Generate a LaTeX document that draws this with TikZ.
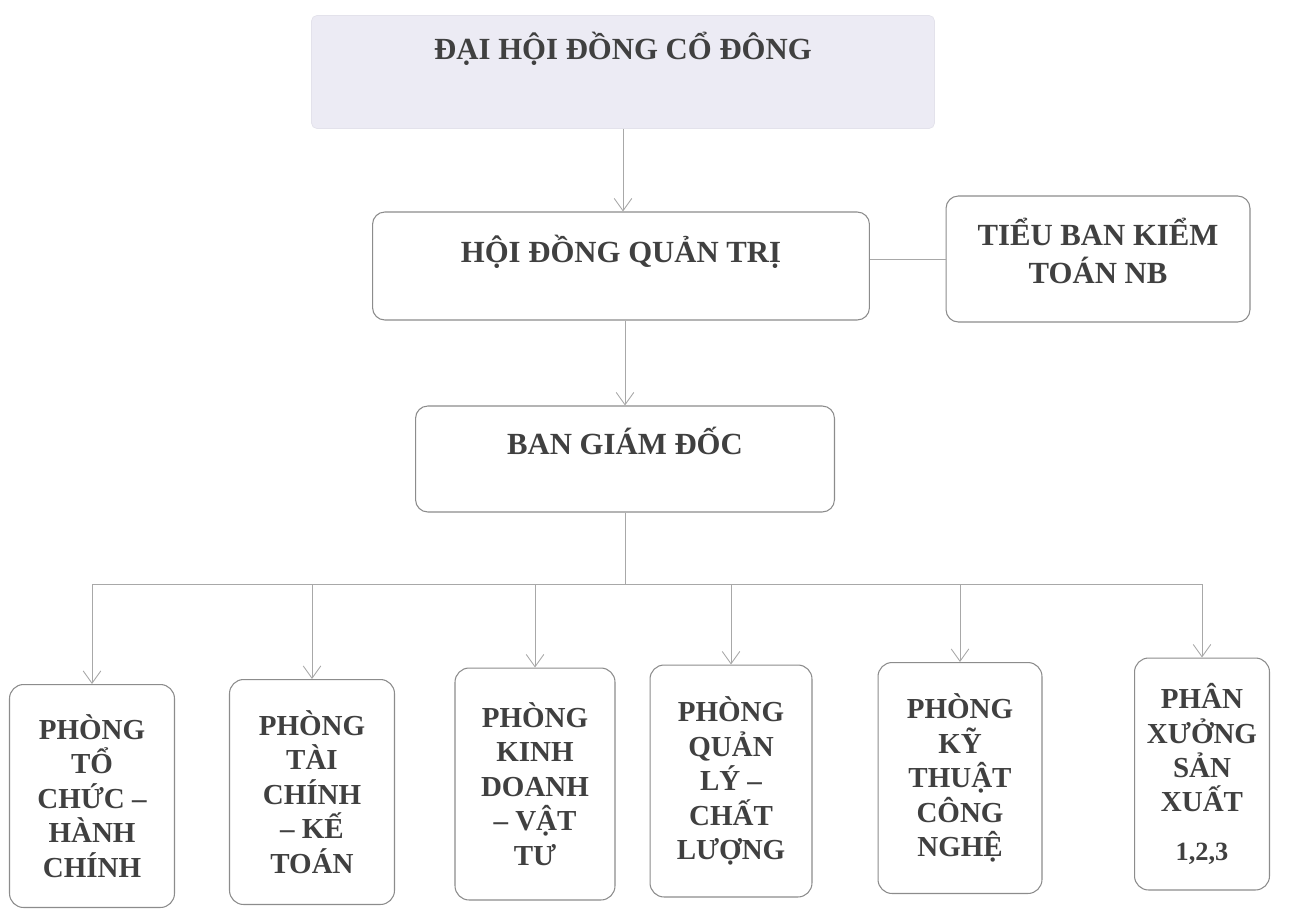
\documentclass[tikz,border=0pt]{standalone}
\usepackage{fontspec}
\setmainfont{Liberation Serif}
\usetikzlibrary{arrows.meta}
\definecolor{txtgray}{HTML}{404040}
\definecolor{edgegray}{HTML}{8C8C8C}
\definecolor{linegray}{HTML}{A8A8A8}
\definecolor{lavender}{HTML}{ECEBF4}

\begin{document}
\begin{tikzpicture}[x=0.02cm,y=-0.02cm,
	box/.style={draw=edgegray, line width=0.6pt, rounded corners=7pt, fill=white},
	dept/.style={box, rounded corners=8pt, align=center, text=txtgray, font=\fontsize{16.5}{19.6}\selectfont\bfseries},
	head/.style={text=txtgray, font=\fontsize{17.5}{21.5}\selectfont\bfseries, align=center},
	link/.style={draw=linegray, line width=0.5pt},
	arr/.style={link, -{Straight Barb[length=7pt,width=10pt]}}]

	\useasboundingbox (0,0) rectangle (1300,909);

	% upper levels
	\node[fill=lavender, draw=lavender!92!gray, rounded corners=3pt, minimum width=12.46cm, minimum height=2.26cm,
		label={[head,anchor=base,yshift=-0.88cm]north:ĐẠI HỘI ĐỒNG CỔ ĐÔNG}] (dhdcd) at (623,72) {};
	\node[box, minimum width=9.94cm, minimum height=2.16cm,
		label={[head,anchor=base,yshift=-1.02cm]north:HỘI ĐỒNG QUẢN TRỊ}] (hdqt) at (621,266) {};
	\node[box, minimum width=6.08cm, minimum height=2.52cm,
		label={[head,yshift=0.16cm]center:TIỂU BAN KIỂM\\TOÁN NB}] (tieuban) at (1098,259) {};
	\node[box, minimum width=8.38cm, minimum height=2.12cm,
		label={[head,anchor=base,yshift=-0.98cm]north:BAN GIÁM ĐỐC}] (bgd) at (625,459) {};

	% departments
	\node[dept, minimum width=3.3cm, minimum height=4.46cm] (tchc) at (92,796) {PHÒNG\\TỔ\\CHỨC –\\HÀNH\\CHÍNH};
	\node[dept, minimum width=3.3cm, minimum height=4.5cm] (tckt) at (312,792) {PHÒNG\\TÀI\\CHÍNH\\– KẾ\\TOÁN};
	\node[dept, minimum width=3.2cm, minimum height=4.64cm] (kdvt) at (535,784) {PHÒNG\\KINH\\DOANH\\– VẬT\\TƯ};
	\node[dept, minimum width=3.24cm, minimum height=4.64cm] (qlcl) at (731,781) {PHÒNG\\QUẢN\\LÝ –\\CHẤT\\LƯỢNG};
	\node[dept, minimum width=3.28cm, minimum height=4.62cm] (ktcn) at (960,778) {PHÒNG\\KỸ\\THUẬT\\CÔNG\\NGHỆ};
	\node[dept, minimum width=2.7cm, minimum height=4.64cm] (pxsx) at (1202,774) {PHÂN\\XƯỞNG\\SẢN\\XUẤT\\[8pt]{\fontsize{15}{18}\selectfont 1,2,3}};

	% connectors
	\draw[arr] (dhdcd.south) -- (dhdcd.south |- hdqt.north);
	\draw[arr] (bgd.north |- hdqt.south) -- (bgd.north);
	\draw[link] (tieuban.west -| hdqt.east) -- (tieuban.west);

	\coordinate (bus) at (633,584);
	\draw[link] (bgd.south) -- (bgd.south |- bus);
	\draw[link] (tchc.north |- bus) -- (pxsx.north |- bus);
	\foreach \d in {tchc,tckt,kdvt,qlcl,ktcn,pxsx}
		\draw[arr] (\d.north |- bus) -- (\d.north);
\end{tikzpicture}
\end{document}
